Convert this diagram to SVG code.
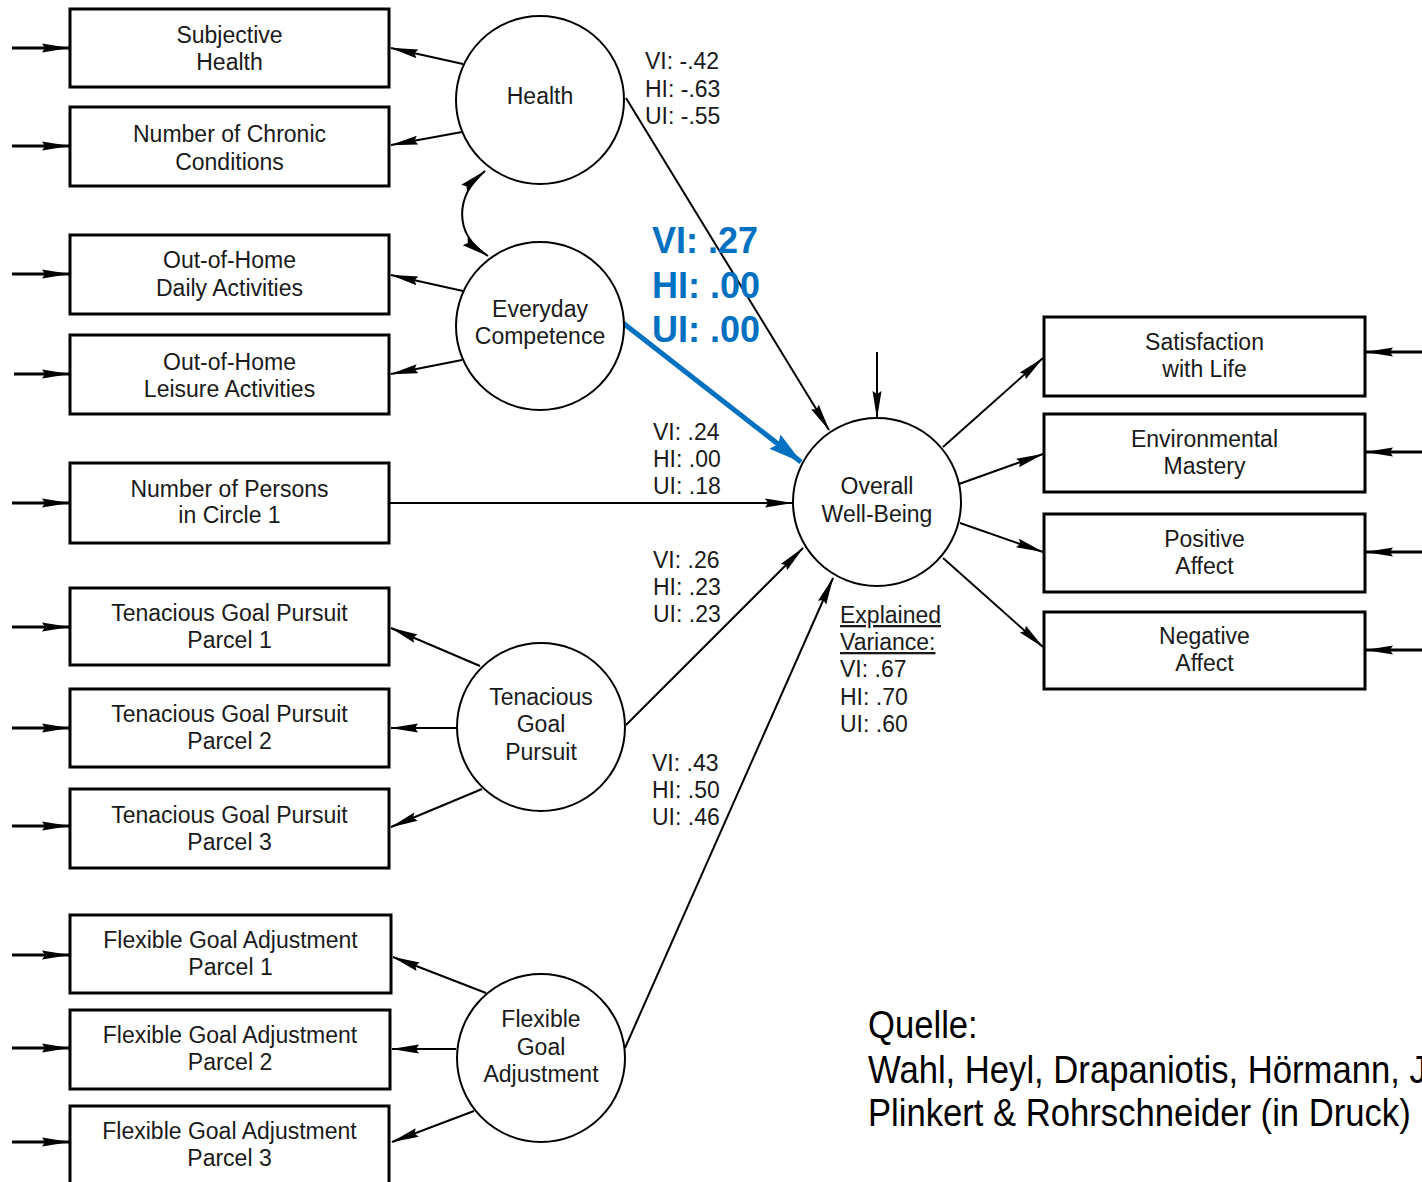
<svg xmlns="http://www.w3.org/2000/svg" width="1422" height="1182" viewBox="0 0 1422 1182">
<style>
.box{fill:#fff;stroke:#000;stroke-width:3}
.lat{fill:#fff;stroke:#000;stroke-width:2}
.t{font-family:"Liberation Sans",Arial,sans-serif;font-size:23px;text-anchor:middle;fill:#1a1a1a}
.lab{font-family:"Liberation Sans",Arial,sans-serif;font-size:23px;fill:#1a1a1a}
.blue{font-family:"Liberation Sans",Arial,sans-serif;font-size:36px;font-weight:bold;fill:#0070C0}
.src{font-family:"Liberation Sans",Arial,sans-serif;font-size:39px;fill:#000}
.c{stroke:#000;stroke-width:2;fill:none;marker-end:url(#ah)}
.e{stroke:#000;stroke-width:3;fill:none;marker-end:url(#ah)}
.bl{stroke:#0070C0;stroke-width:5;fill:none;marker-end:url(#bh)}
.u{text-decoration:underline}
</style>
<defs>
<marker id="ah" markerUnits="userSpaceOnUse" markerWidth="30" markerHeight="12" refX="27" refY="5" orient="auto-start-reverse">
<path d="M0,0.5 L28,5 L0,9.5 L3,5 z" fill="#000"/>
</marker>
<marker id="bh" markerUnits="userSpaceOnUse" markerWidth="36" markerHeight="20" refX="33" refY="9" orient="auto">
<path d="M0,0 L34,9 L0,18 L4,9 z" fill="#0070C0"/>
</marker>
</defs>
<rect width="1422" height="1182" fill="#fff"/>

<g id="connectors">
<path class="e" d="M12,48 L69,48"/>
<path class="e" d="M12,146 L69,146"/>
<path class="e" d="M12,274 L69,274"/>
<path class="e" d="M14,374 L69,374"/>
<path class="e" d="M12,503 L69,503"/>
<path class="e" d="M12,627 L69,627"/>
<path class="e" d="M12,728 L69,728"/>
<path class="e" d="M12,826 L69,826"/>
<path class="e" d="M12,955 L69,955"/>
<path class="e" d="M12,1048 L69,1048"/>
<path class="e" d="M12,1142 L69,1142"/>
<path class="e" d="M1422,352 L1366,352"/>
<path class="e" d="M1422,452 L1366,452"/>
<path class="e" d="M1422,552 L1366,552"/>
<path class="e" d="M1422,650 L1366,650"/>
<path class="c" d="M877,352 L877,418"/>
<path class="c" d="M463,64 L391,48"/>
<path class="c" d="M462,132 L391,145"/>
<path class="c" d="M463,291 L391,275"/>
<path class="c" d="M462,360 L391,374"/>
<path class="c" d="M480,666 L391,628"/>
<path class="c" d="M457,728 L391,728"/>
<path class="c" d="M482,789 L391,827"/>
<path class="c" d="M486,993 L393,957"/>
<path class="c" d="M456,1049 L392,1049"/>
<path class="c" d="M474,1111 L392,1142"/>
<path class="c" style="marker-start:url(#ah)" d="M485,171 C456,195 452,233 488,256"/>
<path class="c" d="M626,98 L829,430"/>
<path class="bl" d="M623,323 L801,462"/>
<path class="c" d="M389,503 L792,503"/>
<path class="c" d="M626,725 L803,548"/>
<path class="c" d="M625,1048 L833,578"/>
<path class="c" d="M943,447 L1043,358"/>
<path class="c" d="M959,484 L1043,454"/>
<path class="c" d="M960,523 L1043,552"/>
<path class="c" d="M943,558 L1043,647"/>
</g>

<g id="subjective-health"><rect class="box" x="70" y="9" width="319" height="78"/><text class="t" x="229.5" y="43">Subjective</text><text class="t" x="229.5" y="70">Health</text></g>
<g id="chronic-conditions"><rect class="box" x="70" y="107" width="319" height="79"/><text class="t" x="229.5" y="142">Number of Chronic</text><text class="t" x="229.5" y="170">Conditions</text></g>
<g id="daily-activities"><rect class="box" x="70" y="235" width="319" height="79"/><text class="t" x="229.5" y="268">Out-of-Home</text><text class="t" x="229.5" y="296">Daily Activities</text></g>
<g id="leisure-activities"><rect class="box" x="70" y="335" width="319" height="79"/><text class="t" x="229.5" y="370">Out-of-Home</text><text class="t" x="229.5" y="397">Leisure Activities</text></g>
<g id="persons-circle"><rect class="box" x="70" y="463" width="319" height="80"/><text class="t" x="229.5" y="497">Number of Persons</text><text class="t" x="229.5" y="523">in Circle 1</text></g>
<g id="tgp-parcel-1"><rect class="box" x="70" y="588" width="319" height="77"/><text class="t" x="229.5" y="621">Tenacious Goal Pursuit</text><text class="t" x="229.5" y="648">Parcel 1</text></g>
<g id="tgp-parcel-2"><rect class="box" x="70" y="689" width="319" height="78"/><text class="t" x="229.5" y="722">Tenacious Goal Pursuit</text><text class="t" x="229.5" y="749">Parcel 2</text></g>
<g id="tgp-parcel-3"><rect class="box" x="70" y="789" width="319" height="79"/><text class="t" x="229.5" y="823">Tenacious Goal Pursuit</text><text class="t" x="229.5" y="850">Parcel 3</text></g>
<g id="fga-parcel-1"><rect class="box" x="70" y="915" width="321" height="78"/><text class="t" x="230.5" y="948">Flexible Goal Adjustment</text><text class="t" x="230.5" y="975">Parcel 1</text></g>
<g id="fga-parcel-2"><rect class="box" x="70" y="1010" width="320" height="79"/><text class="t" x="230" y="1043">Flexible Goal Adjustment</text><text class="t" x="230" y="1070">Parcel 2</text></g>
<g id="fga-parcel-3"><rect class="box" x="70" y="1106" width="319" height="90"/><text class="t" x="229.5" y="1139">Flexible Goal Adjustment</text><text class="t" x="229.5" y="1166">Parcel 3</text></g>

<g id="health"><circle class="lat" cx="540" cy="100" r="84"/><text class="t" x="540" y="104">Health</text></g>
<g id="everyday-competence"><circle class="lat" cx="540" cy="326" r="84"/><text class="t" x="540" y="317">Everyday</text><text class="t" x="540" y="344">Competence</text></g>
<g id="tenacious-goal-pursuit"><circle class="lat" cx="541" cy="727" r="84"/><text class="t" x="541" y="705">Tenacious</text><text class="t" x="541" y="732">Goal</text><text class="t" x="541" y="760">Pursuit</text></g>
<g id="flexible-goal-adjustment"><circle class="lat" cx="541" cy="1058" r="84"/><text class="t" x="541" y="1027">Flexible</text><text class="t" x="541" y="1055">Goal</text><text class="t" x="541" y="1082">Adjustment</text></g>
<g id="overall-well-being"><circle class="lat" cx="877" cy="502" r="84"/><text class="t" x="877" y="494">Overall</text><text class="t" x="877" y="522">Well-Being</text></g>

<g id="satisfaction"><rect class="box" x="1044" y="317" width="321" height="79"/><text class="t" x="1204.5" y="350">Satisfaction</text><text class="t" x="1204.5" y="377">with Life</text></g>
<g id="environmental-mastery"><rect class="box" x="1044" y="414" width="321" height="78"/><text class="t" x="1204.5" y="447">Environmental</text><text class="t" x="1204.5" y="474">Mastery</text></g>
<g id="positive-affect"><rect class="box" x="1044" y="514" width="321" height="78"/><text class="t" x="1204.5" y="547">Positive</text><text class="t" x="1204.5" y="574">Affect</text></g>
<g id="negative-affect"><rect class="box" x="1044" y="612" width="321" height="77"/><text class="t" x="1204.5" y="644">Negative</text><text class="t" x="1204.5" y="671">Affect</text></g>

<g id="labels">
<text class="lab" x="645" y="69">VI: -.42</text>
<text class="lab" x="645" y="97">HI: -.63</text>
<text class="lab" x="645" y="124">UI: -.55</text>
<text class="blue" x="652" y="253">VI: .27</text>
<text class="blue" x="652" y="298">HI: .00</text>
<text class="blue" x="652" y="342">UI: .00</text>
<text class="lab" x="653" y="440">VI: .24</text>
<text class="lab" x="653" y="467">HI: .00</text>
<text class="lab" x="653" y="494">UI: .18</text>
<text class="lab" x="653" y="568">VI: .26</text>
<text class="lab" x="653" y="595">HI: .23</text>
<text class="lab" x="653" y="622">UI: .23</text>
<text class="lab" x="652" y="771">VI: .43</text>
<text class="lab" x="652" y="798">HI: .50</text>
<text class="lab" x="652" y="825">UI: .46</text>
<text class="lab u" x="840" y="623">Explained</text>
<text class="lab u" x="840" y="650">Variance:</text>
<text class="lab" x="840" y="677">VI: .67</text>
<text class="lab" x="840" y="705">HI: .70</text>
<text class="lab" x="840" y="732">UI: .60</text>
</g>

<g id="source" transform="translate(868,0) scale(0.888,1)">
<text class="src" x="0" y="1038">Quelle:</text>
<text class="src" x="0" y="1083">Wahl, Heyl, Drapaniotis, Hörmann, J</text>
<text class="src" x="0" y="1126">Plinkert &amp; Rohrschneider (in Druck)</text>
</g>
</svg>
